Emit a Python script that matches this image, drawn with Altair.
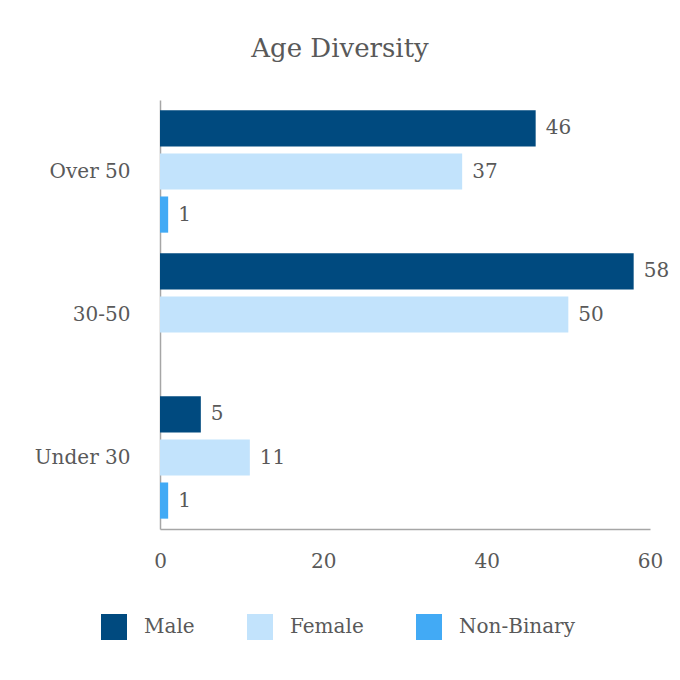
import altair as alt
import pandas as pd

categories = ["Over 50", "Over 50", "Over 50", "30-50", "30-50", "Under 30", "Under 30", "Under 30"]
genders = ["Male", "Female", "Non-Binary", "Male", "Female", "Male", "Female", "Non-Binary"]
values = [46, 37, 1, 58, 50, 5, 11, 1]

cat_order = ["Over 50", "30-50", "Under 30"]
gender_order = ["Male", "Female", "Non-Binary"]
colors = ["#004a7f", "#c2e3fc", "#42aaf5"]

df = pd.DataFrame({"Age": categories, "Gender": genders, "Count": values})

FONT = "DejaVu Serif"
GRAY = "#595959"
FS = 20

base = alt.Chart(df).encode(
    y=alt.Y("Age:N", sort=cat_order, scale=alt.Scale(domain=cat_order, paddingInner=0, paddingOuter=0),
            axis=alt.Axis(title=None, ticks=False, labelPadding=30, labelFontSize=FS, labelFont=FONT,
                          labelColor=GRAY, domainColor="#a6a6a6", domainWidth=1.5)),
    yOffset=alt.YOffset("Gender:N", sort=gender_order,
                        scale=alt.Scale(domain=gender_order, paddingInner=0.16, paddingOuter=0.24)),
    x=alt.X("Count:Q", scale=alt.Scale(domain=[0, 60]),
            axis=alt.Axis(title=None, values=[0, 20, 40, 60], ticks=False, grid=False, labelPadding=22,
                          labelFlush=False,
                          labelFontSize=FS, labelFont=FONT, labelColor=GRAY,
                          domainColor="#a6a6a6", domainWidth=1.5)),
)

bars = base.mark_bar().encode(
    color=alt.Color("Gender:N", sort=gender_order,
                    scale=alt.Scale(domain=gender_order, range=colors),
                    legend=alt.Legend(title=None, orient="none", direction="horizontal",
                                      legendX=-59, legendY=514, symbolType="square", symbolSize=676,
                                      symbolStrokeWidth=0, labelFontSize=FS, labelFont=FONT,
                                      labelColor=GRAY, labelOffset=17, columnPadding=52))
)

labels = base.mark_text(align="left", baseline="middle", dx=10, fontSize=FS, font=FONT, color=GRAY).encode(
    text=alt.Text("Count:Q")
)

chart = (bars + labels).properties(
    width=490,
    height=429,
    autosize=alt.AutoSizeParams(type="none"),
    padding={"left": 152, "top": 92, "right": 22, "bottom": 143},
    title=alt.TitleParams("Age Diversity", fontSize=26, font=FONT, color=GRAY, fontWeight="normal",
                          anchor="middle", dx=-65, offset=38),
).configure(font=FONT).configure_view(stroke=None)

chart.save("out.html", embed_options={"renderer": "svg", "actions": False})
